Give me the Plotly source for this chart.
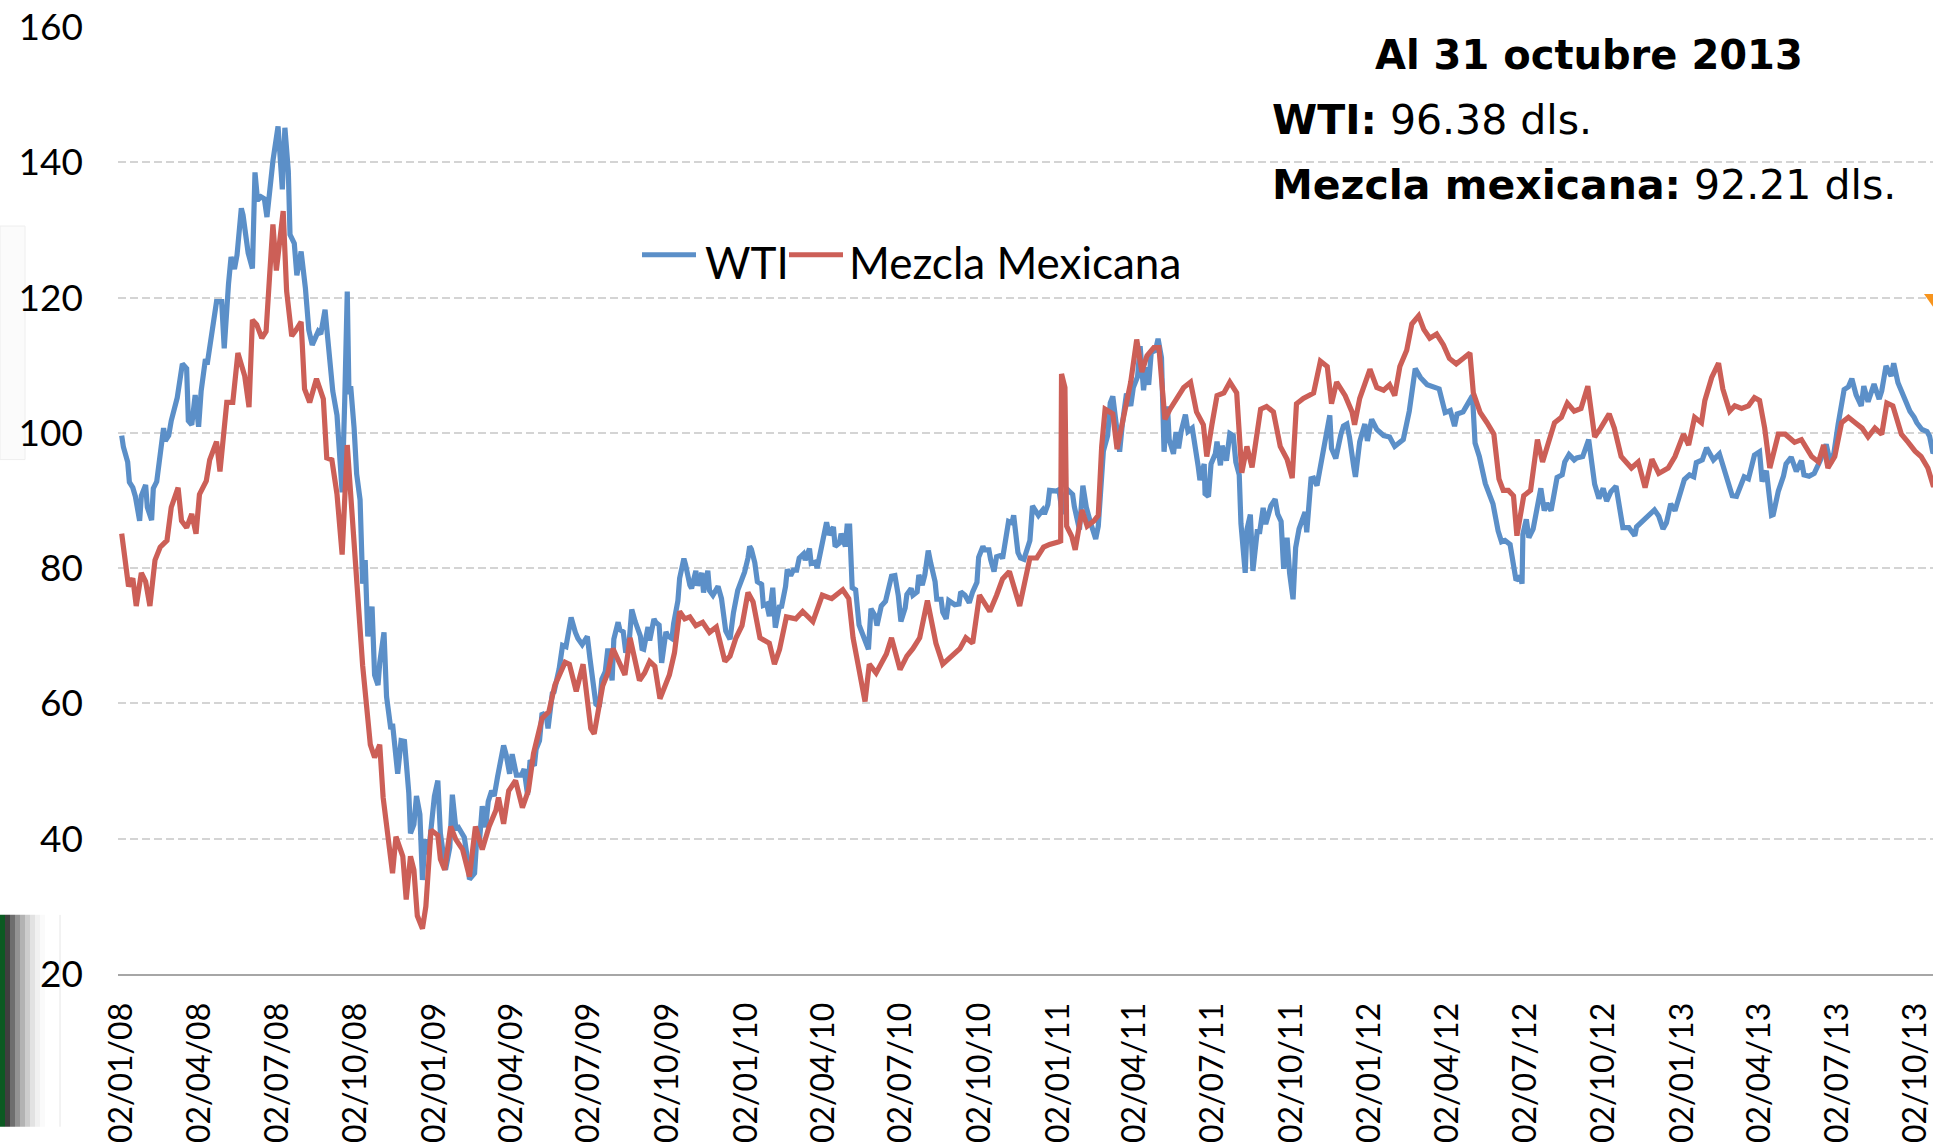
import plotly.graph_objects as go

# ---------------- data ----------------
wti_dates = [
 "2008-01-02","2008-01-04","2008-01-09","2008-01-11","2008-01-15","2008-01-18","2008-01-23","2008-01-25","2008-01-30",
 "2008-02-01","2008-02-06","2008-02-08","2008-02-12","2008-02-15","2008-02-20","2008-02-22","2008-02-26","2008-02-29",
 "2008-03-05","2008-03-07","2008-03-13","2008-03-18","2008-03-20","2008-03-24","2008-03-28","2008-04-01","2008-04-04",
 "2008-04-09","2008-04-11","2008-04-16","2008-04-18","2008-04-22","2008-04-28","2008-05-01","2008-05-06","2008-05-09",
 "2008-05-13","2008-05-16","2008-05-21","2008-05-23","2008-05-29","2008-06-03","2008-06-06","2008-06-09","2008-06-13",
 "2008-06-17","2008-06-20","2008-06-24","2008-06-27","2008-07-03","2008-07-08","2008-07-11","2008-07-15","2008-07-17",
 "2008-07-22","2008-07-25","2008-07-30","2008-08-04","2008-08-08","2008-08-12","2008-08-15","2008-08-19","2008-08-22",
 "2008-08-27","2008-08-29","2008-09-02","2008-09-05","2008-09-10","2008-09-16","2008-09-19","2008-09-22","2008-09-24",
 "2008-09-26","2008-09-30","2008-10-03","2008-10-07","2008-10-10","2008-10-13","2008-10-16","2008-10-21","2008-10-24",
 "2008-10-28","2008-10-30","2008-11-04","2008-11-07","2008-11-12","2008-11-14","2008-11-20","2008-11-24","2008-11-28",
 "2008-12-03","2008-12-05","2008-12-09","2008-12-12","2008-12-16","2008-12-19","2008-12-22","2008-12-26","2008-12-31",
 "2009-01-02","2009-01-06","2009-01-09","2009-01-15","2009-01-20","2009-01-23","2009-01-27","2009-01-30","2009-02-04",
 "2009-02-06","2009-02-11","2009-02-12","2009-02-18","2009-02-20","2009-02-24","2009-02-27","2009-03-03","2009-03-06",
 "2009-03-10","2009-03-13","2009-03-17","2009-03-20","2009-03-24","2009-03-27","2009-03-31","2009-04-03","2009-04-08",
 "2009-04-14","2009-04-17","2009-04-21","2009-04-24","2009-04-29","2009-05-01","2009-05-05","2009-05-08","2009-05-13",
 "2009-05-15","2009-05-20","2009-05-22","2009-05-28","2009-06-01","2009-06-05","2009-06-11","2009-06-16","2009-06-19",
 "2009-06-24","2009-06-30","2009-07-03","2009-07-07","2009-07-10","2009-07-14","2009-07-17","2009-07-21","2009-07-24",
 "2009-07-29","2009-07-31","2009-08-05","2009-08-07","2009-08-11","2009-08-14","2009-08-18","2009-08-21","2009-08-25",
 "2009-08-31","2009-09-02","2009-09-04","2009-09-09","2009-09-11","2009-09-16","2009-09-18","2009-09-22","2009-09-25",
 "2009-09-30","2009-10-02","2009-10-07","2009-10-09","2009-10-14","2009-10-16","2009-10-21","2009-10-23","2009-10-28",
 "2009-10-30","2009-11-04","2009-11-06","2009-11-11","2009-11-13","2009-11-18","2009-11-20","2009-11-24","2009-11-30",
 "2009-12-04","2009-12-09","2009-12-14","2009-12-18","2009-12-23","2009-12-31",
 "2010-01-04","2010-01-06","2010-01-08","2010-01-12","2010-01-15","2010-01-20","2010-01-22","2010-01-26","2010-01-29",
 "2010-02-02","2010-02-05","2010-02-10","2010-02-12","2010-02-17","2010-02-19","2010-02-23","2010-02-26","2010-03-02",
 "2010-03-05","2010-03-10","2010-03-12","2010-03-17","2010-03-19","2010-03-24","2010-03-26","2010-03-31","2010-04-06",
 "2010-04-09","2010-04-14","2010-04-16","2010-04-21","2010-04-23","2010-04-28","2010-04-30","2010-05-03","2010-05-06",
 "2010-05-10","2010-05-14","2010-05-19","2010-05-25","2010-05-28","2010-06-02","2010-06-04","2010-06-09","2010-06-14",
 "2010-06-18","2010-06-21","2010-06-25","2010-06-29","2010-07-02","2010-07-07","2010-07-09","2010-07-14","2010-07-16",
 "2010-07-21","2010-07-23","2010-07-27","2010-07-30","2010-08-03","2010-08-06","2010-08-11","2010-08-13","2010-08-18",
 "2010-08-20","2010-08-24","2010-08-27","2010-09-01","2010-09-03","2010-09-08","2010-09-10","2010-09-15","2010-09-20",
 "2010-09-24","2010-09-29","2010-10-01","2010-10-06","2010-10-08","2010-10-13","2010-10-15","2010-10-19","2010-10-22",
 "2010-10-27","2010-10-29","2010-11-03","2010-11-05","2010-11-09","2010-11-11","2010-11-16","2010-11-19","2010-11-23",
 "2010-11-30","2010-12-03","2010-12-07","2010-12-10","2010-12-15","2010-12-17","2010-12-21","2010-12-23","2010-12-31",
 "2011-01-03","2011-01-07","2011-01-11","2011-01-14","2011-01-19","2011-01-21","2011-01-25","2011-01-27","2011-01-31",
 "2011-02-04","2011-02-09","2011-02-15","2011-02-18","2011-02-22","2011-02-24","2011-03-01","2011-03-04","2011-03-07",
 "2011-03-11","2011-03-15","2011-03-18","2011-03-23","2011-03-28","2011-03-31","2011-04-05","2011-04-08","2011-04-12",
 "2011-04-15","2011-04-18","2011-04-21","2011-04-26","2011-04-29","2011-05-03","2011-05-05","2011-05-06","2011-05-10",
 "2011-05-12","2011-05-17","2011-05-20","2011-05-23","2011-05-26","2011-05-31","2011-06-03","2011-06-08","2011-06-13",
 "2011-06-15","2011-06-17","2011-06-22","2011-06-23","2011-06-27","2011-06-30","2011-07-05","2011-07-07","2011-07-11",
 "2011-07-13","2011-07-18","2011-07-22","2011-07-26","2011-07-29","2011-08-02","2011-08-04","2011-08-08","2011-08-09",
 "2011-08-11","2011-08-15","2011-08-18","2011-08-23","2011-08-26","2011-08-30","2011-09-02","2011-09-08","2011-09-13",
 "2011-09-16","2011-09-20","2011-09-23","2011-09-27","2011-09-30","2011-10-04","2011-10-07","2011-10-11","2011-10-14",
 "2011-10-18","2011-10-20","2011-10-25","2011-10-28","2011-11-01","2011-11-04","2011-11-08","2011-11-11","2011-11-16",
 "2011-11-18","2011-11-23","2011-11-29","2011-12-02","2011-12-06","2011-12-09","2011-12-14","2011-12-16","2011-12-21",
 "2011-12-27","2011-12-30",
 "2012-01-04","2012-01-10","2012-01-18","2012-01-25","2012-01-31","2012-02-10","2012-02-17","2012-02-24","2012-03-01",
 "2012-03-09","2012-03-16","2012-03-23","2012-03-30","2012-04-05","2012-04-10","2012-04-13","2012-04-20","2012-04-27",
 "2012-05-01","2012-05-04","2012-05-09","2012-05-16","2012-05-22","2012-05-25","2012-05-31","2012-06-04","2012-06-08",
 "2012-06-14","2012-06-21","2012-06-26","2012-06-28","2012-06-29","2012-07-03","2012-07-06","2012-07-11","2012-07-17",
 "2012-07-20","2012-07-24","2012-07-27","2012-08-01","2012-08-08","2012-08-14","2012-08-17","2012-08-22","2012-08-28",
 "2012-08-31","2012-09-07","2012-09-14","2012-09-18","2012-09-21","2012-09-26","2012-10-01","2012-10-05","2012-10-10",
 "2012-10-16","2012-10-19","2012-10-24","2012-10-31","2012-11-07","2012-11-09","2012-11-16","2012-11-21","2012-11-30",
 "2012-12-05","2012-12-10","2012-12-14","2012-12-19","2012-12-24","2012-12-31",
 "2013-01-04","2013-01-10","2013-01-15","2013-01-18","2013-01-25","2013-01-30","2013-02-01","2013-02-07","2013-02-14",
 "2013-02-20","2013-02-26","2013-03-01","2013-03-06","2013-03-12","2013-03-15","2013-03-20","2013-03-27","2013-04-02",
 "2013-04-05","2013-04-10","2013-04-16","2013-04-18","2013-04-24","2013-04-30","2013-05-03","2013-05-09","2013-05-15",
 "2013-05-21","2013-05-24","2013-05-30","2013-06-05","2013-06-12","2013-06-19","2013-06-24","2013-06-28","2013-07-03",
 "2013-07-10","2013-07-15","2013-07-19","2013-07-24","2013-07-30","2013-08-02","2013-08-07","2013-08-14","2013-08-20",
 "2013-08-23","2013-08-28","2013-09-03","2013-09-06","2013-09-11","2013-09-17","2013-09-20","2013-09-25","2013-09-30",
 "2013-10-03","2013-10-09","2013-10-15","2013-10-18","2013-10-22","2013-10-25","2013-10-31",
]
wti_values = [
 99.6,97.9,95.7,92.7,91.9,90.6,87.0,90.7,92.3,
 89.0,87.1,91.8,92.8,95.5,100.7,98.8,99.6,101.8,
 104.5,105.2,110.2,109.5,101.8,101.2,105.6,100.9,106.2,
 110.9,110.1,114.9,116.7,119.4,119.4,112.5,122.0,126.0,
 124.2,126.3,133.2,132.2,126.6,124.3,138.5,134.4,134.9,
 134.6,131.9,136.8,140.2,145.3,136.0,145.1,138.7,129.3,
 128.0,123.3,126.8,121.4,115.2,113.0,113.8,115.0,114.6,
 118.2,115.5,109.7,106.2,102.6,91.2,104.6,120.9,105.7,
 106.9,100.7,93.9,90.1,77.7,81.2,69.9,74.3,64.2,
 62.7,66.0,70.5,61.0,56.2,57.0,49.6,54.5,54.4,
 46.8,40.8,42.1,46.3,43.6,33.9,39.9,37.7,44.6,
 46.3,48.6,40.8,35.4,38.7,46.5,41.6,41.7,40.3,
 40.2,35.9,34.0,34.9,38.9,40.0,44.8,41.7,45.5,
 47.1,46.3,49.2,51.1,53.8,52.4,49.6,52.5,49.4,
 49.4,50.3,46.5,51.6,50.8,53.2,54.5,58.6,58.0,
 56.3,61.5,61.7,65.1,68.6,68.4,72.7,70.5,69.6,
 68.7,69.9,66.7,62.9,59.9,59.5,63.6,64.7,68.1,
 63.4,69.5,72.0,70.9,70.6,67.5,69.2,73.9,72.1,
 70.0,68.1,68.0,71.3,69.3,72.5,72.0,71.6,66.0,
 70.6,70.0,69.6,71.8,75.2,78.5,81.4,80.5,77.5,
 77.0,79.6,77.4,79.3,76.4,79.6,76.7,76.0,77.3,
 75.5,70.7,69.5,73.4,76.7,79.4,
 81.5,83.2,82.8,80.8,78.0,77.6,74.5,74.7,72.9,
 77.1,71.2,74.5,74.1,77.3,79.8,78.9,79.7,79.7,
 81.5,82.1,81.2,82.9,80.7,80.9,80.0,83.5,86.8,
 84.9,86.1,83.2,83.7,85.1,83.2,86.2,86.2,77.1,
 76.8,71.6,69.9,68.0,74.0,72.9,71.5,74.4,75.1,
 77.2,78.8,78.9,75.9,72.1,74.1,76.1,77.0,76.0,
 76.5,79.0,77.5,79.0,82.6,80.7,78.0,75.4,75.4,
 73.5,72.5,75.2,74.9,74.6,74.7,76.5,76.0,74.9,
 76.5,77.9,81.6,83.2,82.7,82.7,81.3,79.5,81.7,
 81.9,81.4,84.7,86.9,86.7,87.8,82.3,81.5,81.3,
 84.1,89.2,88.3,87.8,88.6,88.0,89.4,91.5,91.4,
 91.6,88.0,91.1,91.5,90.9,89.1,86.2,85.7,92.2,
 89.0,86.7,84.3,86.2,93.6,97.3,99.6,104.4,105.4,
 101.2,97.2,101.1,105.8,104.0,106.7,108.3,112.8,106.3,
 109.7,107.1,111.9,112.2,113.9,111.1,99.8,97.2,103.9,
 99.0,96.9,100.1,97.7,100.2,102.7,100.2,100.7,97.3,
 95.0,93.0,95.4,91.0,90.6,95.4,96.9,98.7,95.2,
 98.1,95.9,99.9,99.6,95.7,93.8,86.6,81.3,79.3,
 85.7,87.9,79.6,85.4,85.4,88.9,86.5,89.2,90.2,
 88.0,86.9,79.9,84.5,79.2,75.4,83.0,85.8,86.8,
 88.3,85.3,93.2,93.3,92.2,94.3,96.8,99.0,102.6,
 97.7,96.2,99.8,101.0,101.3,99.4,95.0,93.5,98.7,
 101.3,98.8,
 102.0,100.5,99.6,99.4,98.0,99.0,103.2,109.5,108.2,
 107.1,106.8,106.5,103.0,103.3,101.0,102.8,103.1,104.9,
 105.5,98.5,96.5,92.5,90.5,89.5,85.5,83.9,84.1,
 83.5,78.2,78.8,77.7,85.0,87.2,84.5,85.8,89.5,
 91.8,88.5,89.6,88.5,93.4,93.8,95.7,96.8,96.0,
 96.3,96.5,99.0,95.3,92.4,90.3,91.8,89.9,91.3,
 92.1,90.1,86.0,86.0,84.8,86.1,86.9,87.4,88.6,
 87.7,85.8,86.7,89.5,88.5,91.8,
 93.1,93.8,93.5,95.6,96.0,97.8,97.4,96.0,96.9,
 94.5,92.3,90.7,90.6,92.5,93.5,93.2,96.7,97.2,
 92.8,94.4,87.8,87.9,91.4,93.6,95.4,96.4,94.3,
 95.9,93.8,93.6,94.0,95.9,98.3,95.5,97.0,101.3,
 106.4,106.8,108.0,105.6,104.0,106.9,104.6,107.2,105.0,
 106.2,109.9,108.4,110.3,107.4,105.4,104.6,103.2,102.3,
 101.5,100.5,100.2,99.5,97.0,97.5,96.4,
]

mme_dates = [
 "2008-01-02","2008-01-10","2008-01-15","2008-01-19","2008-01-25","2008-01-30","2008-02-04","2008-02-10","2008-02-16",
 "2008-02-24","2008-02-29","2008-03-08","2008-03-12","2008-03-18","2008-03-24","2008-03-29","2008-04-02","2008-04-10",
 "2008-04-14","2008-04-22","2008-04-26","2008-05-04","2008-05-11","2008-05-17","2008-05-25","2008-05-30","2008-06-03",
 "2008-06-08","2008-06-14","2008-06-19","2008-06-23","2008-06-27","2008-07-01","2008-07-09","2008-07-13","2008-07-19",
 "2008-07-24","2008-07-30","2008-08-03","2008-08-09","2008-08-17","2008-08-25","2008-08-29","2008-09-04","2008-09-10",
 "2008-09-16","2008-09-22","2008-09-26","2008-10-01","2008-10-05","2008-10-10","2008-10-16","2008-10-19","2008-10-24",
 "2008-10-30","2008-11-03","2008-11-07","2008-11-14","2008-11-18","2008-11-26","2008-11-30","2008-12-05","2008-12-09",
 "2008-12-13","2008-12-19","2008-12-23","2008-12-29",
 "2009-01-06","2009-01-09","2009-01-14","2009-01-21","2009-01-27","2009-02-04","2009-02-12","2009-02-19","2009-02-27",
 "2009-03-07","2009-03-15","2009-03-18","2009-03-24","2009-03-30","2009-04-07","2009-04-15","2009-04-22","2009-04-28",
 "2009-05-04","2009-05-08","2009-05-16","2009-05-23","2009-06-04","2009-06-09","2009-06-17","2009-06-25","2009-07-04",
 "2009-07-08","2009-07-18","2009-07-24","2009-07-30","2009-08-06","2009-08-13","2009-08-19","2009-08-24","2009-08-30",
 "2009-09-05","2009-09-11","2009-09-17","2009-09-23","2009-10-04","2009-10-10","2009-10-16","2009-10-22","2009-10-28",
 "2009-11-04","2009-11-12","2009-11-20","2009-11-28","2009-12-08","2009-12-14","2009-12-21","2009-12-28",
 "2010-01-04","2010-01-10","2010-01-18","2010-01-29","2010-02-04","2010-02-10","2010-02-18","2010-03-01","2010-03-09",
 "2010-03-21","2010-04-01","2010-04-12","2010-04-25","2010-05-02","2010-05-07","2010-05-14","2010-05-21","2010-05-26",
 "2010-06-03","2010-06-15","2010-06-21","2010-07-01","2010-07-09","2010-07-16","2010-07-24","2010-08-02","2010-08-12",
 "2010-08-20","2010-08-30","2010-09-09","2010-09-16","2010-09-24","2010-10-02","2010-10-14","2010-10-22","2010-10-29",
 "2010-11-06","2010-11-18","2010-11-30","2010-12-08","2010-12-16","2010-12-23",
 "2011-01-03","2011-01-05","2011-01-06","2011-01-10","2011-01-12","2011-01-18","2011-01-22","2011-01-30","2011-02-05",
 "2011-02-13","2011-02-18","2011-02-22","2011-02-26","2011-03-07","2011-03-12","2011-03-20","2011-03-28","2011-04-04",
 "2011-04-10","2011-04-16","2011-04-24","2011-04-30","2011-05-04","2011-05-07","2011-05-13","2011-05-21","2011-05-29",
 "2011-06-06","2011-06-13","2011-06-21","2011-06-25","2011-07-01","2011-07-07","2011-07-15","2011-07-22","2011-07-30",
 "2011-08-05","2011-08-11","2011-08-17","2011-08-27","2011-09-03","2011-09-11","2011-09-19","2011-09-27","2011-10-03",
 "2011-10-08","2011-10-16","2011-10-28","2011-11-05","2011-11-13","2011-11-18","2011-11-24","2011-12-04","2011-12-12",
 "2011-12-15","2011-12-21",
 "2012-01-02","2012-01-10","2012-01-18","2012-01-25","2012-01-31","2012-02-06","2012-02-14","2012-02-20","2012-02-28",
 "2012-03-05","2012-03-12","2012-03-20","2012-03-28","2012-04-04","2012-04-12","2012-04-20","2012-04-28","2012-05-02",
 "2012-05-10","2012-05-18","2012-05-26","2012-06-01","2012-06-06","2012-06-12","2012-06-18","2012-06-22","2012-06-30",
 "2012-07-08","2012-07-16","2012-07-22","2012-07-28","2012-08-05","2012-08-13","2012-08-20","2012-08-28","2012-09-05",
 "2012-09-13","2012-09-21","2012-09-28","2012-10-08","2012-10-14","2012-10-22","2012-11-03","2012-11-11","2012-11-19",
 "2012-11-27","2012-12-05","2012-12-16","2012-12-24",
 "2013-01-03","2013-01-09","2013-01-16","2013-01-24","2013-01-28","2013-02-05","2013-02-13","2013-02-18","2013-02-26",
 "2013-03-04","2013-03-12","2013-03-20","2013-03-27","2013-04-02","2013-04-08","2013-04-14","2013-04-24","2013-05-02",
 "2013-05-13","2013-05-21","2013-05-27","2013-06-02","2013-06-10","2013-06-16","2013-06-21","2013-06-29","2013-07-07",
 "2013-07-15","2013-07-23","2013-07-31","2013-08-07","2013-08-15","2013-08-23","2013-08-29","2013-09-05","2013-09-15",
 "2013-09-23","2013-10-01","2013-10-08","2013-10-16","2013-10-22","2013-10-31",
]
mme_values = [
 85.1,77.3,78.5,74.4,79.3,78.0,74.4,81.2,83.1,
 84.1,89.0,91.9,87.0,86.0,88.0,85.1,90.9,92.9,
 96.0,98.7,94.3,104.5,104.5,111.8,108.4,103.8,116.7,
 116.0,114.0,115.0,123.0,130.8,124.0,132.8,121.0,114.3,
 115.2,116.4,106.5,104.5,108.0,105.0,96.3,96.0,90.9,
 82.0,98.2,90.9,83.0,75.3,65.6,57.8,53.9,52.0,
 53.9,46.1,42.2,34.9,40.3,37.4,31.0,37.4,35.4,
 28.6,26.7,30.0,41.3,
 40.5,37.0,35.4,41.8,39.9,38.4,34.4,41.8,38.4,
 41.8,44.2,46.1,42.2,47.1,48.6,44.6,47.1,52.6,
 55.9,57.8,58.8,62.7,66.1,65.8,61.8,65.8,56.3,
 55.5,62.6,64.5,68.1,66.0,64.2,69.7,67.0,63.4,
 64.5,66.2,65.5,60.7,64.2,67.5,73.6,72.5,72.8,
 71.5,72.0,70.5,71.3,66.2,67.0,69.7,71.5,
 76.4,75.0,69.7,68.9,65.8,68.0,72.8,72.5,73.6,
 72.1,76.0,75.5,76.8,75.5,69.7,65.0,60.3,65.8,
 64.5,67.3,69.7,65.0,67.0,68.1,69.7,75.2,68.9,
 65.8,67.0,68.1,69.7,68.9,76.0,73.6,76.0,78.4,
 79.5,74.4,81.5,81.5,83.1,83.5,
 83.9,84.0,108.7,106.7,86.2,84.7,82.7,88.6,86.2,
 87.0,87.8,98.0,103.5,102.8,97.6,102.8,107.5,113.8,
 109.0,111.4,112.6,112.6,107.5,102.0,103.5,105.1,106.7,
 107.5,103.1,101.2,96.5,101.2,105.5,105.9,107.5,105.9,
 94.1,98.0,94.9,103.5,103.9,103.1,98.0,96.1,93.3,
 104.3,105.1,105.9,110.6,109.8,104.3,107.5,105.5,103.1,
 101.2,105.1,
 109.4,106.7,106.3,107.1,105.5,109.8,112.2,116.1,117.3,
 115.3,114.0,114.6,113.0,111.0,110.2,111.0,111.8,105.9,
 103.0,101.5,99.8,93.2,91.5,91.5,90.7,84.8,90.7,
 91.5,99.0,95.7,98.2,101.5,102.3,104.4,103.2,103.6,
 106.9,99.4,100.7,102.8,100.7,96.5,94.8,95.7,91.9,
 96.1,94.0,94.8,96.5,
 99.8,98.2,102.3,101.5,104.8,108.2,110.3,106.5,103.2,
 104.0,103.6,104.0,105.2,104.8,100.7,94.8,99.8,99.8,
 98.6,99.0,97.8,96.5,95.7,98.2,94.8,96.5,101.5,
 102.3,101.5,100.7,99.4,100.7,99.8,104.4,104.0,99.8,
 98.6,97.3,96.5,94.8,92.3,92.2,
]

y_ticks = [20, 40, 60, 80, 100, 120, 140, 160]
x_tick_dates = [
 "2008-01-02","2008-04-02","2008-07-02","2008-10-02","2009-01-02","2009-04-02","2009-07-02","2009-10-02",
 "2010-01-02","2010-04-02","2010-07-02","2010-10-02","2011-01-02","2011-04-02","2011-07-02","2011-10-02",
 "2012-01-02","2012-04-02","2012-07-02","2012-10-02","2013-01-02","2013-04-02","2013-07-02","2013-10-02",
]
series_names = ["WTI", "Mezcla Mexicana"]
note_title = "Al 31 octubre 2013"
note_wti = ("WTI:", "96.38 dls.")
note_mme = ("Mezcla mexicana:", "92.21 dls.")

# ---------------- styling ----------------
W, H = 1933, 1143
L, R, T, B = 118, 0, 27, 155
PW, PH = W - L - R, H - T - B
BLUE = "#5B8FC8"
RED = "#CC5F57"
FONT = "Lato, 'Open Sans', sans-serif"
NOTE_FONT = "'DejaVu Sans', Lato, sans-serif"

def px(xp):  # pixel x -> paper
    return (xp - L) / PW

def py(yp):  # pixel y -> paper
    return (H - B - yp) / PH

fig = go.Figure()
fig.add_trace(go.Scatter(x=wti_dates, y=wti_values, mode="lines", name=series_names[0],
                         line=dict(color=BLUE, width=5.2), showlegend=False))
fig.add_trace(go.Scatter(x=mme_dates, y=mme_values, mode="lines", name=series_names[1],
                         line=dict(color=RED, width=5.2), showlegend=False))

shapes = []
# manual legend
shapes.append(dict(type="line", xref="paper", yref="paper", x0=px(642), x1=px(696), y0=py(258), y1=py(258),
                   line=dict(color=BLUE, width=5)))
shapes.append(dict(type="line", xref="paper", yref="paper", x0=px(789), x1=px(843), y0=py(258), y1=py(258),
                   line=dict(color=RED, width=5)))
# slide decorations (left edge, bottom-left green bar, right orange corner)
grad = ["#3f3f3f", "#6e6e6e", "#939393", "#b3b3b3", "#cdcdcd", "#e2e2e2", "#f1f1f1", "#fafafa"]
for i, c in enumerate(grad):
    shapes.append(dict(type="rect", xref="paper", yref="paper", x0=px(5 + i * 5), x1=px(10 + i * 5),
                       y0=py(H), y1=py(928), line=dict(width=0), fillcolor=c, layer="below"))
shapes.append(dict(type="rect", xref="paper", yref="paper", x0=px(0), x1=px(5), y0=py(H), y1=py(928),
                   line=dict(width=0), fillcolor="#0b5a22", layer="below"))
shapes.append(dict(type="line", xref="paper", yref="paper", x0=px(60), x1=px(60), y0=py(H), y1=py(928),
                   line=dict(color="#e6e6e6", width=1), layer="below"))
shapes.append(dict(type="rect", xref="paper", yref="paper", x0=px(0), x1=px(25), y0=py(466), y1=py(229),
                   line=dict(color="#eeeeee", width=1), fillcolor="#fbfbfb", layer="below"))
shapes.append(dict(type="path", xref="paper", yref="paper",
                   path=f"M {px(1924)},{py(298)} L {px(1933)},{py(298)} L {px(1933)},{py(311)} Z",
                   line=dict(width=0), fillcolor="#f7941d"))

annotations = [
    dict(text=series_names[0], xref="paper", yref="paper", x=px(703), y=py(265), xanchor="left", yanchor="middle",
         showarrow=False, font=dict(family=FONT, size=44, color="#000000")),
    dict(text=series_names[1], xref="paper", yref="paper", x=px(847), y=py(265), xanchor="left", yanchor="middle",
         showarrow=False, font=dict(family=FONT, size=44, color="#000000")),
    dict(text=f"<b>{note_title}</b>", xref="paper", yref="paper", x=px(1589), y=py(55), xanchor="center",
         yanchor="middle", showarrow=False, font=dict(family=NOTE_FONT, size=40, color="#000000")),
    dict(text=f"<b>{note_wti[0]}</b> {note_wti[1]}", xref="paper", yref="paper", x=px(1270), y=py(121),
         xanchor="left", yanchor="middle", showarrow=False, font=dict(family=NOTE_FONT, size=41, color="#000000")),
    dict(text=f"<b>{note_mme[0]}</b> {note_mme[1]}", xref="paper", yref="paper", x=px(1270), y=py(187),
         xanchor="left", yanchor="middle", showarrow=False, font=dict(family=NOTE_FONT, size=41, color="#000000")),
]

fig.update_layout(
    width=W, height=H,
    margin=dict(l=L, r=R, t=T, b=B, pad=0),
    paper_bgcolor="#ffffff", plot_bgcolor="#ffffff",
    font=dict(family=FONT, color="#000000"),
    shapes=shapes, annotations=annotations,
    showlegend=False,
    xaxis=dict(
        type="date", range=["2007-12-28 16:00", "2013-10-22"],
        tickvals=x_tick_dates, tickformat="%d/%m/%y", tickangle=-90,
        tickfont=dict(family=FONT, size=32, color="#000000"),
        showgrid=False, zeroline=False, showline=True, linecolor="#a6a6a6", linewidth=2,
        ticks="", ticklabelstandoff=14, ticklabeloverflow="allow",
    ),
    yaxis=dict(
        range=[20, 160], tickvals=y_ticks,
        tickfont=dict(family=FONT, size=37, color="#000000"),
        showgrid=True, gridcolor="#d4d4d4", gridwidth=2, griddash="8px,4px",
        zeroline=False, showline=False, ticks="", ticklabelstandoff=34,
    ),
)

fig.write_html("out.html", config={"displayModeBar": False},
               post_script="document.body.style.margin='0px';document.body.style.overflow='hidden';")
